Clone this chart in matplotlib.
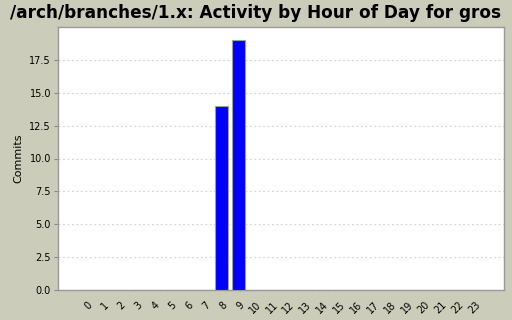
import matplotlib
matplotlib.use("Agg")
import matplotlib.pyplot as plt

hours = [str(h) for h in range(24)]
commits = [0, 0, 0, 0, 0, 0, 0, 0, 14, 19, 0, 0, 0, 0, 0, 0, 0, 0, 0, 0, 0, 0, 0, 0]
yticks = [0.0, 2.5, 5.0, 7.5, 10.0, 12.5, 15.0, 17.5]
title = "/arch/branches/1.x: Activity by Hour of Day for gros"

bg = "#ccccbb"
fig = plt.figure(figsize=(5.12, 3.2), dpi=100, facecolor=bg)
ax = fig.add_axes([58/512, 1 - 290/320, (504-58)/512, (290-27)/320])
ax.set_facecolor("white")

x = list(range(len(hours)))
ax.bar(x, commits, width=0.769, color="#0000ff", edgecolor="#a0a0a0", linewidth=0.8, zorder=3)

ax.set_xlim(-1.70, 24.70)
ax.set_ylim(0, 20)
ax.set_yticks(yticks)
ax.set_yticklabels([f"{v:.1f}" for v in yticks], fontsize=7)
ax.set_xticks(x)
ax.set_xticklabels(hours, fontsize=7, rotation=45, ha="right", rotation_mode="anchor")
ax.tick_params(axis="x", length=0, pad=7)
ax.tick_params(axis="y", length=3, color="#888888", pad=2)
ax.yaxis.grid(True, linestyle=(0, (2, 2)), color="#d8d8d8", linewidth=0.8, zorder=0)
for s in ax.spines.values():
    s.set_color("#999999")
    s.set_linewidth(1.0)
ax.set_ylabel("Commits", fontsize=8, labelpad=4)
fig.text(256/512, 1 - 13/320, title, ha="center", va="center", fontsize=12.2, fontweight="bold")

fig.savefig("out.png", dpi=100, facecolor=bg)
